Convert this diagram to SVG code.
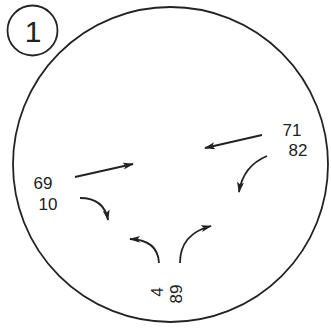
<svg xmlns="http://www.w3.org/2000/svg" width="331" height="328" viewBox="0 0 331 328">
<defs>
<marker id="ah" markerWidth="11" markerHeight="8" refX="10" refY="4" orient="auto" markerUnits="userSpaceOnUse">
<path d="M0,0.5 L11,4 L0,7.5 L2.5,4 Z" fill="#222"/>
</marker>
<style>
.lbl{font-family:"Liberation Sans",Arial,sans-serif;font-size:17px;fill:#222}
.ar{fill:none;stroke:#222;stroke-width:1.8;marker-end:url(#ah)}
</style>
</defs>
<rect width="331" height="328" fill="#fff"/>
<g id="badge">
<circle cx="32.5" cy="30.5" r="25" fill="none" stroke="#222" stroke-width="1.8"/>
<text class="lbl" x="33" y="42" text-anchor="middle" style="font-size:30px">1</text>
</g>
<g id="frame">
<circle cx="170.5" cy="164.5" r="157.5" fill="none" stroke="#222" stroke-width="1.8"/>
</g>
<g id="labels">
<text class="lbl" x="43" y="189" text-anchor="middle">69</text>
<text class="lbl" x="48" y="210" text-anchor="middle">10</text>
<text class="lbl" x="292" y="136" text-anchor="middle">71</text>
<text class="lbl" x="298" y="156" text-anchor="middle">82</text>
<text class="lbl" transform="translate(163,292) rotate(-90)" text-anchor="middle">4</text>
<text class="lbl" transform="translate(182,294) rotate(-90)" text-anchor="middle">89</text>
</g>
<g id="connectors">
<path class="ar" d="M75,177 L133,164"/>
<path class="ar" d="M262,135 L205,148"/>
<path class="ar" d="M80,198 Q104,198 108,220"/>
<path class="ar" d="M267,156 Q243,166 239,192"/>
<path class="ar" d="M159,263 Q158,240 130,239"/>
<path class="ar" d="M180,263 Q180,234 211,226"/>
</g>
</svg>
